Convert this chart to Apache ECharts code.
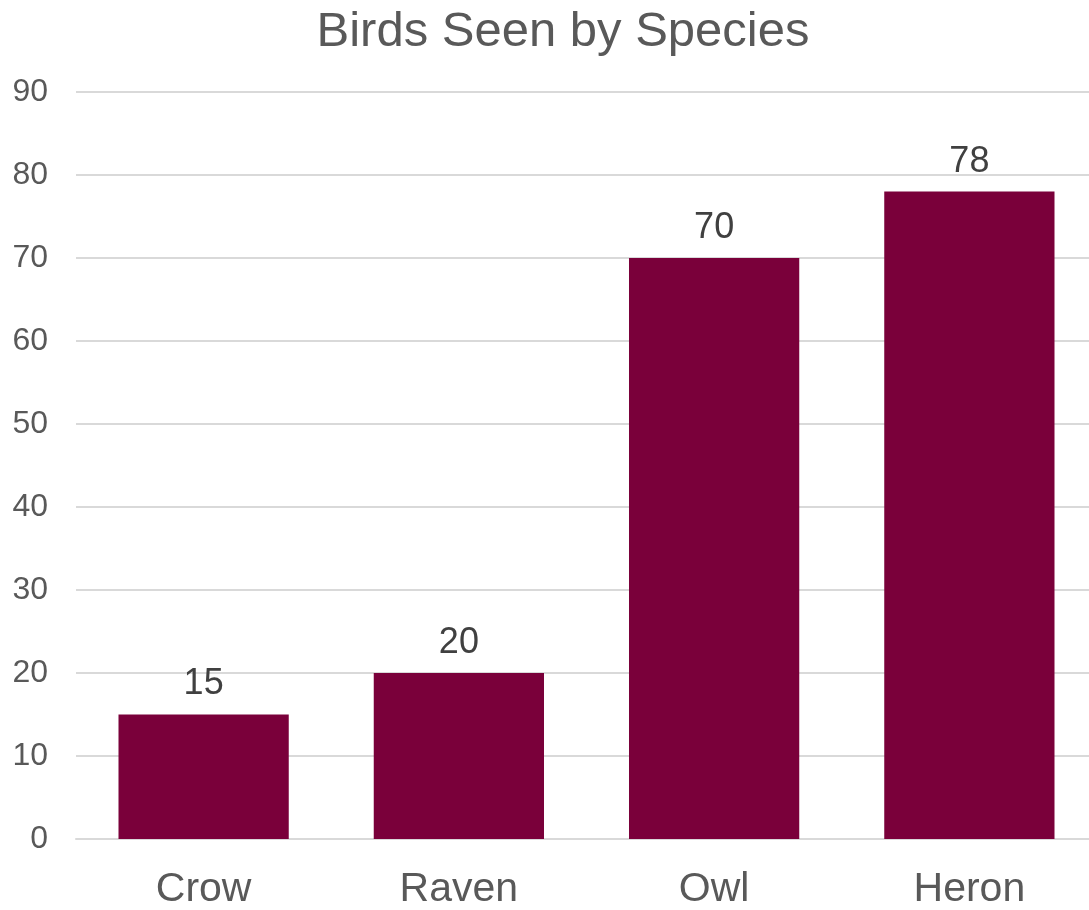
<!DOCTYPE html>
<html>
<head>
<meta charset="utf-8">
<script src="https://cdn.jsdelivr.net/npm/echarts@6/dist/echarts.min.js"></script>
<style>
  html, body { margin: 0; padding: 0; background: #ffffff; }
  #chart { width: 1089px; height: 910px; }
</style>
</head>
<body>
<div id="chart"></div>
<script>
// Bird counts per species
const species = ['Crow', 'Raven', 'Owl', 'Heron'];
const birdsSeen = [15, 20, 70, 78];
const yTicks = { min: 0, max: 90, interval: 10 };

const FONT = '"Liberation Sans", Arial, sans-serif';
const chart = echarts.init(document.getElementById('chart'), null, { renderer: 'canvas' });

chart.setOption({
  animation: false,
  backgroundColor: '#ffffff',
  textStyle: { fontFamily: FONT },
  title: {
    text: 'Birds Seen by Species',
    left: 558,
    top: 3,
    textAlign: 'center',
    textStyle: {
      fontFamily: FONT,
      fontSize: 49,
      fontWeight: 'normal',
      color: '#595959'
    }
  },
  // plot area runs slightly past the right edge of the canvas
  grid: { left: 76, width: 1021, top: 92, bottom: 71, containLabel: false, outerBoundsMode: 'none' },
  xAxis: {
    type: 'category',
    data: species,
    axisLine: { show: true, lineStyle: { color: '#d9d9d9', width: 2 } },
    axisTick: { show: false },
    axisLabel: {
      margin: 30,
      fontSize: 41,
      color: '#595959',
      fontFamily: FONT
    }
  },
  yAxis: {
    type: 'value',
    min: yTicks.min,
    max: yTicks.max,
    interval: yTicks.interval,
    axisLine: { show: false },
    axisTick: { show: false },
    splitLine: { lineStyle: { color: '#d9d9d9', width: 2 } },
    axisLabel: {
      margin: 28,
      fontSize: 32,
      color: '#595959',
      fontFamily: FONT
    }
  },
  series: [{
    type: 'bar',
    data: birdsSeen,
    barCategoryGap: '33.3%',
    itemStyle: { color: '#7a003a' },
    label: {
      show: true,
      position: 'top',
      distance: 12,
      fontSize: 36,
      color: '#404040',
      fontFamily: FONT
    }
  }]
});
</script>
</body>
</html>
